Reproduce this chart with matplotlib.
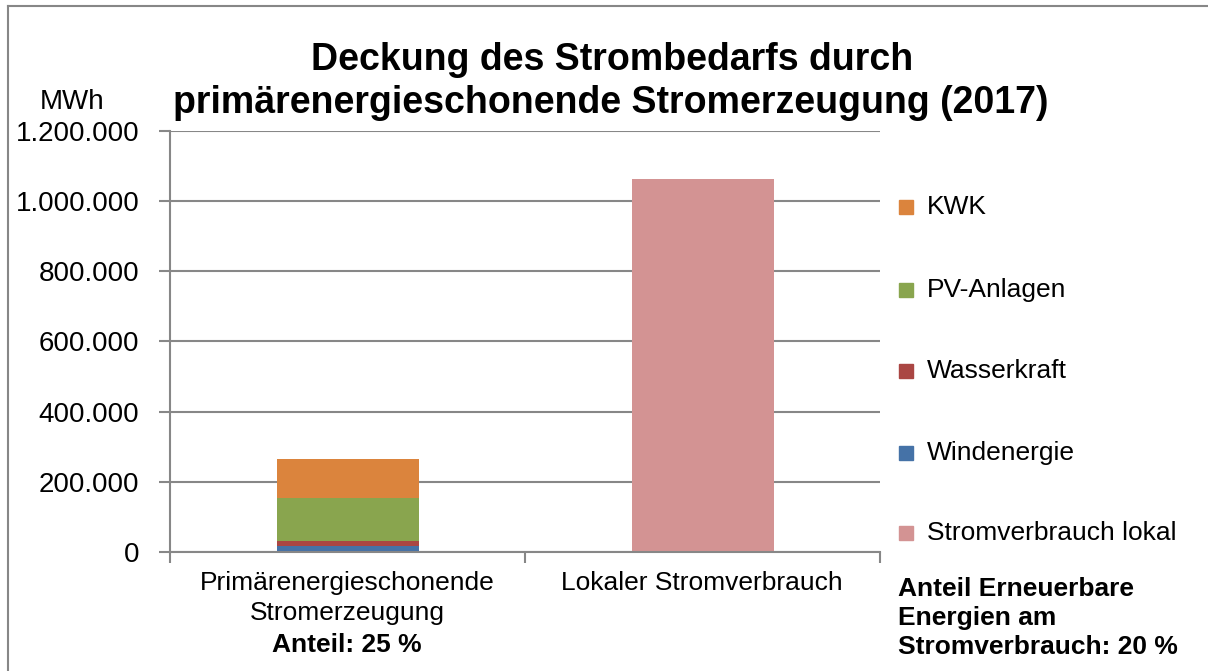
import matplotlib
matplotlib.use("Agg")
import matplotlib.pyplot as plt
from matplotlib.patches import Rectangle
from matplotlib.lines import Line2D
from matplotlib.ticker import FuncFormatter

plt.rcParams['font.family'] = ['Liberation Sans', 'DejaVu Sans']

categories = ["Primärenergieschonende\nStromerzeugung", "Lokaler Stromverbrauch"]
wind = [18000, 0]
wasser = [14000, 0]
pv = [123000, 0]
kwk = [109000, 0]
strom_lokal = [0, 1062000]
series_names = ["Windenergie", "Wasserkraft", "PV-Anlagen", "KWK", "Stromverbrauch lokal"]
series_values = [wind, wasser, pv, kwk, strom_lokal]
colors = ["#4572A7", "#AA4643", "#89A54E", "#DB843D", "#D39393"]
yticks = [0, 200000, 400000, 600000, 800000, 1000000, 1200000]

W, H = 1208, 671
fig = plt.figure(figsize=(W / 100, H / 100), dpi=100)
ax = fig.add_axes([170 / W, 1 - 552 / H, 710 / W, 421 / H])

grey = "#878787"
x = list(range(len(categories)))
bottom = [0] * len(categories)
for name, vals, c in zip(series_names, series_values, colors):
    ax.bar(x, vals, width=0.4, bottom=bottom, color=c, zorder=3)
    bottom = [b + v for b, v in zip(bottom, vals)]

ax.set_xlim(-0.5, 1.5)
ax.set_ylim(0, 1200000)
ax.set_yticks(yticks)
ax.yaxis.set_major_formatter(FuncFormatter(lambda v, p: f"{int(v):,}".replace(",", ".")))
ax.grid(axis="y", color=grey, linewidth=1.5, zorder=0)
for s in ["top", "right"]:
    ax.spines[s].set_visible(False)
for s in ["left", "bottom"]:
    ax.spines[s].set_color(grey)
    ax.spines[s].set_linewidth(1.5)
    ax.spines[s].set_zorder(4)
ax.set_xticks([-0.5, 0.5, 1.5])
ax.set_xticklabels([])
ax.tick_params(axis="x", length=8, width=1.5, color=grey)
ax.tick_params(axis="y", length=8, width=1.5, color=grey, labelsize=20, pad=14)

fs = 19
# category labels
fig.text(347 / W, 1 - 583 / H, "Primärenergieschonende", ha="center", va="center", fontsize=fs)
fig.text(347 / W, 1 - 613 / H, "Stromerzeugung", ha="center", va="center", fontsize=fs)
fig.text(347 / W, 1 - 645 / H, "Anteil: 25 %", ha="center", va="center", fontsize=fs, fontweight="bold")
fig.text(702 / W, 1 - 583 / H, categories[1], ha="center", va="center", fontsize=fs)

fig.text(898 / W, 1 - 589 / H, "Anteil Erneuerbare", ha="left", va="center", fontsize=fs, fontweight="bold")
fig.text(898 / W, 1 - 618 / H, "Energien am", ha="left", va="center", fontsize=fs, fontweight="bold")
fig.text(898 / W, 1 - 647 / H, "Stromverbrauch: 20 %", ha="left", va="center", fontsize=fs, fontweight="bold")

# y unit label
fig.text(72 / W, 1 - 102 / H, "MWh", ha="center", va="center", fontsize=20)

# title
fig.text(612 / W, 1 - 60 / H, "Deckung des Strombedarfs durch", ha="center", va="center",
         fontsize=27, fontweight="bold")
fig.text(611 / W, 1 - 103 / H, "primärenergieschonende Stromerzeugung (2017)", ha="center", va="center",
         fontsize=27, fontweight="bold")

# legend (manual)
legend_order = [3, 2, 1, 0, 4]
legend_y = [207, 290, 371, 453, 533]
for idx, yy in zip(legend_order, legend_y):
    fig.patches.append(Rectangle((899 / W, 1 - (yy + 7) / H), 14 / W, 14 / H,
                                 transform=fig.transFigure, color=colors[idx]))
    fig.text(927 / W, 1 - yy / H, series_names[idx], ha="left", va="center", fontsize=fs)

# outer frame
fig.add_artist(Line2D([8 / W, 8 / W], [0, 1 - 6 / H], transform=fig.transFigure, color=grey, linewidth=1.5))
fig.add_artist(Line2D([8 / W, 1], [1 - 6 / H, 1 - 6 / H], transform=fig.transFigure, color=grey, linewidth=1.5))

fig.savefig("out.png", dpi=100)
